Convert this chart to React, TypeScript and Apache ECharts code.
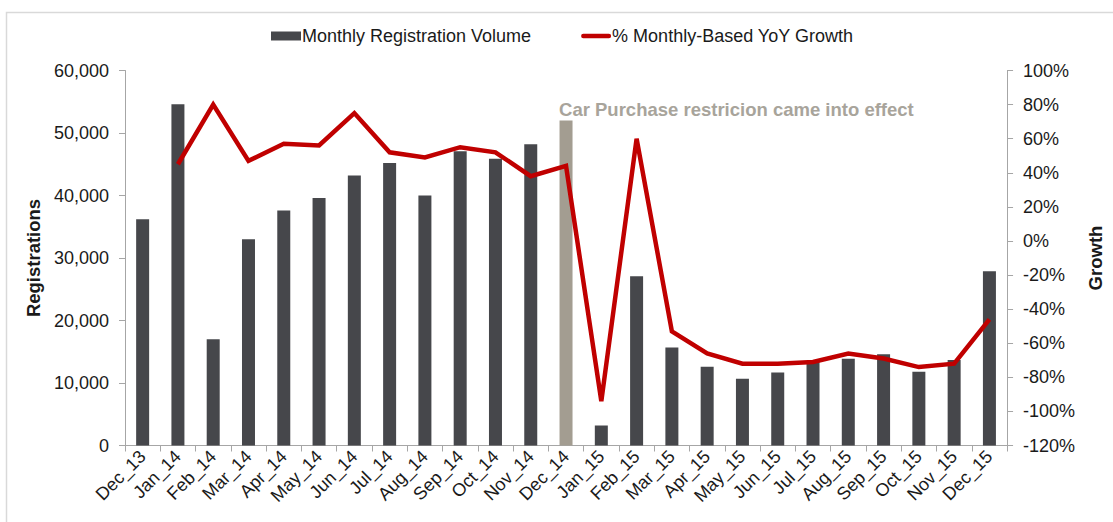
import React, { useEffect, useRef } from "react";
import * as echarts from "echarts";

const categories = [
  "Dec_13", "Jan_14", "Feb_14", "Mar_14", "Apr_14", "May_14", "Jun_14", "Jul_14", "Aug_14",
  "Sep_14", "Oct_14", "Nov_14", "Dec_14", "Jan_15", "Feb_15", "Mar_15", "Apr_15", "May_15",
  "Jun_15", "Jul_15", "Aug_15", "Sep_15", "Oct_15", "Nov_15", "Dec_15",
];
const volume = [
  36200, 54600, 17000, 33000, 37600, 39600, 43200, 45200, 40000, 47100, 45900, 48200, 52000,
  3200, 27100, 15700, 12600, 10700, 11700, 13500, 13900, 14600, 11800, 13700, 27900,
];
const growth: (number | null)[] = [
  null, 45, 80, 47, 57, 56, 75, 52, 49, 55, 52, 38, 44,
  -94, 60, -53, -66, -72, -72, -71, -66, -69, -74, -72, -46,
];
const highlightIndex = 12;
const annotation = "Car Purchase restricion came into effect";
const seriesNames = ["Monthly Registration Volume", "% Monthly-Based YoY Growth"];

const FONT = "'Liberation Sans', Arial, sans-serif";
const BAR = "#46474b";
const BAR_HL = "#a39d91";
const RED = "#c00000";
const AXIS = "#a6a6a6";
const TXT = "#1a1a1a";
const FS = 18;

export default function App() {
  const ref = useRef<HTMLDivElement>(null);
  useEffect(() => {
    if (!ref.current) return;
    const chart = echarts.init(ref.current, undefined, { renderer: "svg" });
    chart.setOption({
      animation: false,
      backgroundColor: "#fff",
      textStyle: { fontFamily: FONT },
      legend: {
        top: 22,
        left: 266,
        itemWidth: 30,
        itemHeight: 9,
        itemGap: 50,
        textStyle: { fontSize: FS, color: TXT, fontFamily: FONT, padding: [0, 0, 0, -4] },
        data: [
          { name: seriesNames[0], icon: "rect", itemStyle: { color: BAR } },
          {
            name: seriesNames[1],
            icon: "path://M2,0 L28,0 A2,2 0 0 1 28,4.5 L2,4.5 A2,2 0 0 1 2,0 Z",
            itemStyle: { color: RED },
          },
        ],
      },
      grid: { left: 125, right: 104, top: 70.5, bottom: 76.5 },
      xAxis: {
        type: "category",
        data: categories,
        boundaryGap: true,
        axisLine: { lineStyle: { color: AXIS, width: 1 } },
        axisTick: { show: true, length: 6, lineStyle: { color: AXIS } },
        axisLabel: { rotate: 45, fontSize: FS, color: TXT, margin: 8, interval: 0, fontFamily: FONT },
      },
      yAxis: [
        {
          type: "value",
          min: 0,
          max: 60000,
          interval: 10000,
          name: "Registrations",
          nameLocation: "middle",
          nameRotate: 90,
          nameGap: 79,
          nameTextStyle: { fontSize: 18.5, fontWeight: "bold", color: TXT, fontFamily: FONT },
          axisLine: { show: true, lineStyle: { color: AXIS } },
          axisTick: { show: true, length: 6, lineStyle: { color: AXIS } },
          splitLine: { show: false },
          axisLabel: {
            fontSize: FS,
            color: TXT,
            margin: 16,
            fontFamily: FONT,
            formatter: (v: number) => v.toLocaleString("en-US"),
          },
        },
        {
          type: "value",
          min: -120,
          max: 100,
          interval: 20,
          position: "right",
          name: "Growth",
          nameLocation: "middle",
          nameRotate: 90,
          nameGap: 74,
          nameTextStyle: { fontSize: 18.5, fontWeight: "bold", color: TXT, fontFamily: FONT },
          axisLine: { show: true, lineStyle: { color: AXIS } },
          axisTick: { show: true, length: 6, lineStyle: { color: AXIS } },
          splitLine: { show: false },
          axisLabel: { fontSize: FS, color: TXT, margin: 16, fontFamily: FONT, formatter: "{value}%" },
        },
      ],
      series: [
        {
          name: seriesNames[0],
          type: "bar",
          barWidth: 13,
          yAxisIndex: 0,
          itemStyle: { color: BAR },
          data: volume.map((v, i) =>
            i === highlightIndex ? { value: v, itemStyle: { color: BAR_HL } } : v
          ),
          markPoint: {
            symbol: "rect",
            symbolSize: 0,
            label: {
              show: true,
              formatter: annotation,
              position: "right",
              offset: [-12, 0],
              fontSize: 18.5,
              fontWeight: "bold",
              color: "#a8a49b",
              fontFamily: FONT,
            },
            data: [{ coord: [highlightIndex, 53750] }],
          },
        },
        {
          name: seriesNames[1],
          type: "line",
          yAxisIndex: 1,
          data: growth,
          symbol: "none",
          lineStyle: { color: RED, width: 4.5, join: "miter" },
          itemStyle: { color: RED },
          z: 5,
        },
      ],
      graphic: [
        {
          type: "polyline",
          shape: { points: [[6.5, 540], [6.5, 12.5], [1113, 12.5]] },
          style: { stroke: "#d9d9d9", lineWidth: 1.5, fill: null },
          silent: true,
        },
      ],
    });
    return () => chart.dispose();
  }, []);
  return (
    <div
      ref={ref}
      style={{ position: "fixed", left: 0, top: 0, width: 1113, height: 522 }}
    />
  );
}
